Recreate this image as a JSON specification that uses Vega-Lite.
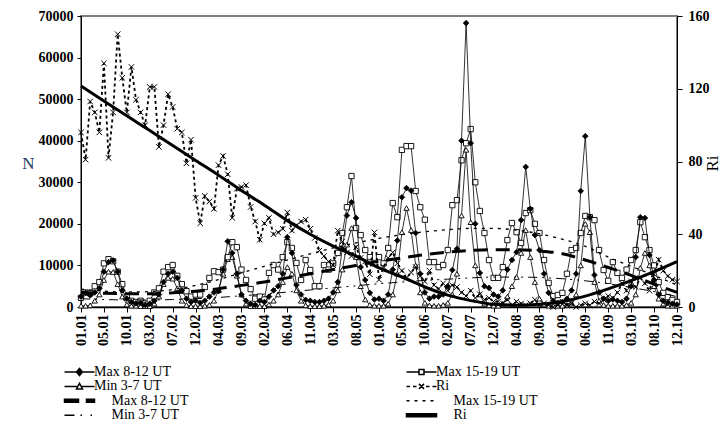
{
"$schema": "https://vega.github.io/schema/vega-lite/v6.json",
"width": 596, "height": 291,
"autosize": {"type": "none"},
"padding": {"left": 81, "top": 16, "right": 47, "bottom": 123},
"background": "white",
"config": {
 "view": {"stroke": "#808080", "strokeWidth": 2},
 "font": "Liberation Serif",
 "axis": {"domainColor": "black", "domainWidth": 1, "tickColor": "black", "grid": false, "labelFont": "Liberation Serif", "labelFontSize": 14, "labelFontWeight": "bold", "labelColor": "black", "titleFont": "Liberation Serif"}
},
"datasets": {
"obs": [
{"i":0,"max812":2500,"max1519":2200,"min37":300,"ri":96},
{"i":1,"max812":3400,"max1519":3500,"min37":300,"ri":81},
{"i":2,"max812":2800,"max1519":3300,"min37":400,"ri":113},
{"i":3,"max812":3500,"max1519":5000,"min37":1500,"ri":107},
{"i":4,"max812":4500,"max1519":6000,"min37":3000,"ri":96},
{"i":5,"max812":8500,"max1519":10500,"min37":6500,"ri":134},
{"i":6,"max812":10800,"max1519":11500,"min37":8500,"ri":82},
{"i":7,"max812":11200,"max1519":11000,"min37":8400,"ri":107},
{"i":8,"max812":8500,"max1519":8500,"min37":5500,"ri":150},
{"i":9,"max812":4000,"max1519":5500,"min37":2500,"ri":126},
{"i":10,"max812":2000,"max1519":2500,"min37":600,"ri":107},
{"i":11,"max812":1200,"max1519":1500,"min37":300,"ri":132},
{"i":12,"max812":900,"max1519":1200,"min37":300,"ri":114},
{"i":13,"max812":1000,"max1519":1500,"min37":200,"ri":107},
{"i":14,"max812":500,"max1519":800,"min37":200,"ri":100},
{"i":15,"max812":800,"max1519":1500,"min37":200,"ri":121},
{"i":16,"max812":1500,"max1519":3500,"min37":800,"ri":121},
{"i":17,"max812":3000,"max1519":4500,"min37":2500,"ri":88},
{"i":18,"max812":6000,"max1519":8500,"min37":5500,"ri":100},
{"i":19,"max812":8000,"max1519":9600,"min37":7000,"ri":117},
{"i":20,"max812":8500,"max1519":10100,"min37":6800,"ri":110},
{"i":21,"max812":7000,"max1519":7500,"min37":4500,"ri":98},
{"i":22,"max812":4000,"max1519":5500,"min37":1500,"ri":96},
{"i":23,"max812":2000,"max1519":3800,"min37":500,"ri":79},
{"i":24,"max812":1200,"max1519":2500,"min37":200,"ri":92},
{"i":25,"max812":1500,"max1519":3000,"min37":200,"ri":60},
{"i":26,"max812":1000,"max1519":3000,"min37":200,"ri":46},
{"i":27,"max812":1500,"max1519":4800,"min37":300,"ri":61},
{"i":28,"max812":2500,"max1519":7000,"min37":500,"ri":58},
{"i":29,"max812":3500,"max1519":8600,"min37":1500,"ri":54},
{"i":30,"max812":3800,"max1519":8400,"min37":4000,"ri":78},
{"i":31,"max812":9000,"max1519":9000,"min37":8000,"ri":83},
{"i":32,"max812":15800,"max1519":12000,"min37":11500,"ri":73},
{"i":33,"max812":13000,"max1519":15600,"min37":12000,"ri":49},
{"i":34,"max812":8000,"max1519":14400,"min37":7500,"ri":65},
{"i":35,"max812":3000,"max1519":9000,"min37":3000,"ri":66},
{"i":36,"max812":1500,"max1519":6500,"min37":800,"ri":67},
{"i":37,"max812":800,"max1519":4300,"min37":200,"ri":55},
{"i":38,"max812":500,"max1519":2000,"min37":200,"ri":47},
{"i":39,"max812":1500,"max1519":2500,"min37":200,"ri":37},
{"i":40,"max812":1200,"max1519":1800,"min37":200,"ri":46},
{"i":41,"max812":2500,"max1519":8200,"min37":600,"ri":49},
{"i":42,"max812":4000,"max1519":10100,"min37":1500,"ri":40},
{"i":43,"max812":5000,"max1519":9000,"min37":3000,"ri":41},
{"i":44,"max812":8000,"max1519":12000,"min37":6000,"ri":43},
{"i":45,"max812":16800,"max1519":15600,"min37":9600,"ri":52},
{"i":46,"max812":13000,"max1519":14200,"min37":8000,"ri":42},
{"i":47,"max812":5300,"max1519":10600,"min37":4000,"ri":45},
{"i":48,"max812":3000,"max1519":6500,"min37":1500,"ri":47},
{"i":49,"max812":1700,"max1519":11300,"min37":400,"ri":48},
{"i":50,"max812":1500,"max1519":8900,"min37":200,"ri":43},
{"i":51,"max812":1200,"max1519":5000,"min37":200,"ri":38},
{"i":52,"max812":1200,"max1519":5000,"min37":200,"ri":31},
{"i":53,"max812":1500,"max1519":10100,"min37":300,"ri":28},
{"i":54,"max812":2000,"max1519":9000,"min37":600,"ri":25},
{"i":55,"max812":3500,"max1519":10500,"min37":1500,"ri":23},
{"i":56,"max812":6000,"max1519":13000,"min37":4000,"ri":42},
{"i":57,"max812":14000,"max1519":17800,"min37":9000,"ri":36},
{"i":58,"max812":22000,"max1519":24000,"min37":15000,"ri":30},
{"i":59,"max812":25200,"max1519":31500,"min37":19000,"ri":28},
{"i":60,"max812":21400,"max1519":19000,"min37":12000,"ri":33},
{"i":61,"max812":9600,"max1519":17300,"min37":5000,"ri":27},
{"i":62,"max812":6500,"max1519":13700,"min37":1800,"ri":25},
{"i":63,"max812":3400,"max1519":12000,"min37":500,"ri":18},
{"i":64,"max812":1800,"max1519":10600,"min37":300,"ri":41},
{"i":65,"max812":2000,"max1519":12000,"min37":300,"ri":15},
{"i":66,"max812":1500,"max1519":10500,"min37":300,"ri":22},
{"i":67,"max812":3000,"max1519":14200,"min37":800,"ri":27},
{"i":68,"max812":9000,"max1519":25000,"min37":3000,"ri":30},
{"i":69,"max812":16000,"max1519":21600,"min37":8000,"ri":24},
{"i":70,"max812":26400,"max1519":37800,"min37":18000,"ri":20},
{"i":71,"max812":28600,"max1519":38700,"min37":23800,"ri":16},
{"i":72,"max812":28000,"max1519":38700,"min37":18500,"ri":19},
{"i":73,"max812":17800,"max1519":27900,"min37":10000,"ri":22},
{"i":74,"max812":8000,"max1519":24000,"min37":3500,"ri":17},
{"i":75,"max812":3500,"max1519":21000,"min37":1000,"ri":14},
{"i":76,"max812":2000,"max1519":10800,"min37":400,"ri":20},
{"i":77,"max812":2500,"max1519":10800,"min37":300,"ri":12},
{"i":78,"max812":2500,"max1519":9600,"min37":300,"ri":10},
{"i":79,"max812":3000,"max1519":10100,"min37":500,"ri":13},
{"i":80,"max812":5000,"max1519":13700,"min37":1000,"ri":9},
{"i":81,"max812":8900,"max1519":24500,"min37":3000,"ri":12},
{"i":82,"max812":14000,"max1519":25700,"min37":8000,"ri":11},
{"i":83,"max812":40000,"max1519":35300,"min37":22000,"ri":8},
{"i":84,"max812":68300,"max1519":39400,"min37":37800,"ri":6},
{"i":85,"max812":39400,"max1519":42800,"min37":20400,"ri":9},
{"i":86,"max812":20000,"max1519":30000,"min37":10000,"ri":5},
{"i":87,"max812":8200,"max1519":23100,"min37":3000,"ri":7},
{"i":88,"max812":5000,"max1519":17800,"min37":800,"ri":4},
{"i":89,"max812":4600,"max1519":11300,"min37":400,"ri":5},
{"i":90,"max812":3000,"max1519":7000,"min37":300,"ri":3},
{"i":91,"max812":2500,"max1519":7000,"min37":300,"ri":3},
{"i":92,"max812":4000,"max1519":9600,"min37":800,"ri":2},
{"i":93,"max812":9000,"max1519":16100,"min37":2500,"ri":4},
{"i":94,"max812":11300,"max1519":20200,"min37":5000,"ri":1},
{"i":95,"max812":13200,"max1519":18000,"min37":7200,"ri":3},
{"i":96,"max812":20900,"max1519":15400,"min37":13000,"ri":2},
{"i":97,"max812":33700,"max1519":22600,"min37":18500,"ri":1},
{"i":98,"max812":23600,"max1519":23300,"min37":12000,"ri":2},
{"i":99,"max812":17300,"max1519":20000,"min37":6000,"ri":4},
{"i":100,"max812":13700,"max1519":17800,"min37":2000,"ri":1},
{"i":101,"max812":8000,"max1519":11300,"min37":600,"ri":2},
{"i":102,"max812":3400,"max1519":5800,"min37":300,"ri":1},
{"i":103,"max812":1500,"max1519":2600,"min37":300,"ri":0},
{"i":104,"max812":1000,"max1519":2900,"min37":300,"ri":1},
{"i":105,"max812":1200,"max1519":3400,"min37":300,"ri":3},
{"i":106,"max812":2000,"max1519":8000,"min37":500,"ri":1},
{"i":107,"max812":4000,"max1519":13700,"min37":1000,"ri":2},
{"i":108,"max812":8000,"max1519":14200,"min37":3000,"ri":0},
{"i":109,"max812":27900,"max1519":17800,"min37":10000,"ri":1},
{"i":110,"max812":41100,"max1519":21900,"min37":20000,"ri":2},
{"i":111,"max812":21600,"max1519":21600,"min37":18000,"ri":1},
{"i":112,"max812":7700,"max1519":20900,"min37":6000,"ri":3},
{"i":113,"max812":3500,"max1519":13700,"min37":1500,"ri":2},
{"i":114,"max812":2000,"max1519":8900,"min37":500,"ri":4},
{"i":115,"max812":1500,"max1519":6300,"min37":300,"ri":6},
{"i":116,"max812":1800,"max1519":10800,"min37":300,"ri":5},
{"i":117,"max812":1500,"max1519":8200,"min37":300,"ri":8},
{"i":118,"max812":1200,"max1519":7000,"min37":300,"ri":13},
{"i":119,"max812":2000,"max1519":9000,"min37":500,"ri":9},
{"i":120,"max812":5000,"max1519":11300,"min37":1000,"ri":14},
{"i":121,"max812":12000,"max1519":13700,"min37":3000,"ri":11},
{"i":122,"max812":21600,"max1519":20400,"min37":9400,"ri":16},
{"i":123,"max812":21400,"max1519":16800,"min37":13000,"ri":13},
{"i":124,"max812":12500,"max1519":13700,"min37":10000,"ri":9},
{"i":125,"max812":6500,"max1519":10000,"min37":5000,"ri":18},
{"i":126,"max812":3000,"max1519":6000,"min37":2000,"ri":26},
{"i":127,"max812":1500,"max1519":3400,"min37":800,"ri":20},
{"i":128,"max812":1000,"max1519":2400,"min37":300,"ri":17},
{"i":129,"max812":800,"max1519":1700,"min37":300,"ri":15},
{"i":130,"max812":600,"max1519":1200,"min37":300,"ri":14}
],
"trend": [
{"i":0,"max812":3500,"max1519":4300,"min37":2000,"ri":121.5},
{"i":5,"max812":3300,"max1519":3800,"min37":1800,"ri":113.3},
{"i":10,"max812":3200,"max1519":3600,"min37":1700,"ri":105.1},
{"i":15,"max812":3200,"max1519":3700,"min37":1700,"ri":97},
{"i":20,"max812":3400,"max1519":4200,"min37":1800,"ri":88.8},
{"i":25,"max812":3800,"max1519":5200,"min37":2000,"ri":80.6},
{"i":30,"max812":4400,"max1519":6600,"min37":2300,"ri":72.5},
{"i":35,"max812":5200,"max1519":8200,"min37":2700,"ri":64},
{"i":40,"max812":6000,"max1519":9800,"min37":3100,"ri":56},
{"i":45,"max812":7000,"max1519":11300,"min37":3600,"ri":47.5},
{"i":50,"max812":8000,"max1519":12800,"min37":4100,"ri":40},
{"i":55,"max812":9000,"max1519":14200,"min37":4600,"ri":33.5},
{"i":60,"max812":10000,"max1519":15400,"min37":5100,"ri":28},
{"i":65,"max812":11000,"max1519":16500,"min37":5600,"ri":21.5},
{"i":70,"max812":11800,"max1519":17400,"min37":6000,"ri":16.5},
{"i":75,"max812":12600,"max1519":18100,"min37":6400,"ri":11},
{"i":80,"max812":13200,"max1519":18600,"min37":6700,"ri":6.5},
{"i":85,"max812":13600,"max1519":18900,"min37":7000,"ri":3.5},
{"i":90,"max812":13800,"max1519":18900,"min37":7200,"ri":1.5},
{"i":95,"max812":13800,"max1519":18500,"min37":7200,"ri":1},
{"i":100,"max812":13500,"max1519":17600,"min37":7100,"ri":1.5},
{"i":105,"max812":12800,"max1519":16300,"min37":6800,"ri":3},
{"i":110,"max812":11300,"max1519":14600,"min37":6300,"ri":6},
{"i":115,"max812":9500,"max1519":12000,"min37":5600,"ri":10},
{"i":120,"max812":7600,"max1519":9800,"min37":4700,"ri":14.5},
{"i":125,"max812":5500,"max1519":7600,"min37":3700,"ri":19.5},
{"i":130,"max812":3500,"max1519":5300,"min37":2500,"ri":25}
]
},
"encoding": {
 "x": {"field": "i", "type": "quantitative", "title": null,
  "scale": {"domain": [0, 130], "nice": false, "zero": false},
  "axis": {"values": [0,5,10,15,20,25,30,35,40,45,50,55,60,65,70,75,80,85,90,95,100,105,110,115,120,125,130],
   "labelExpr": "['01.01','05.01','10.01','03.02','07.02','12.02','04.03','09.03','02.04','06.04','11.04','03.05','08.05','01.06','05.06','10.06','02.07','07.07','12.07','04.08','09.08','01.09','06.09','11.09','03.10','08.10','12.10'][round(datum.value/5)]",
   "labelAngle": 270, "tickSize": 5, "labelPadding": 2, "labelOverlap": false, "labelFlush": false, "labelBound": false, "domainWidth": 1.5}}
},
"layer": [
 {"layer": [
  {"data": {"name": "obs"}, "mark": {"type": "line", "strokeWidth": 0.8},
   "encoding": {
    "y": {"field": "min37", "type": "quantitative", "scale": {"domain": [0, 70000], "nice": false},
     "axis": {"orient": "left", "values": [0,10000,20000,30000,40000,50000,60000,70000], "format": "d", "title": "N", "titleAngle": 0, "titleAlign": "center", "titleBaseline": "middle", "titleX": -53, "titleY": 147, "titleFontSize": 17, "titleFontWeight": "normal", "titleColor": "#1f3864", "tickSize": 4, "labelPadding": 4}},
    "stroke": {"datum": "c",
     "scale": {"domain": ["a","b","c","d","e","f","g","h","pa","pb","pc","pd"], "range": ["black","black","black","black","black","black","black","black","black","black","black","black"]},
     "legend": {"title": null, "orient": "none", "direction": "vertical", "legendX": -8.5, "legendY": 349, "columns": 2, "columnPadding": 215, "rowPadding": 0.4, "padding": 0,
      "symbolSize": 100, "labelFont": "Liberation Serif", "labelFontSize": 14, "labelColor": "black", "labelOffset": 7.5, "labelLimit": 300,
      "values": ["a","c","e","g","b","d","f","h"],
      "labelExpr": "datum.value=='a'?'Max 8-12 UT':datum.value=='b'?'Max 15-19 UT':datum.value=='c'?'Min 3-7 UT':datum.value=='d'?'Ri':datum.value=='e'?'\u200b\u00a0\u00a0\u00a0\u00a0\u00a0Max 8-12 UT':datum.value=='f'?'\u200b\u00a0\u00a0\u00a0\u00a0\u00a0Max 15-19 UT':datum.value=='g'?'\u200b\u00a0\u00a0\u00a0\u00a0\u00a0Min 3-7 UT':'\u200b\u00a0\u00a0\u00a0\u00a0\u00a0Ri'"}}
   }},
  {"data": {"name": "obs"}, "mark": {"type": "point", "size": 28, "strokeWidth": 0.9, "opacity": 1},
   "encoding": {"y": {"field": "min37", "type": "quantitative"},
    "stroke": {"datum": "pc", "scale": {"domain": ["a","b","c","d","e","f","g","h","pa","pb","pc","pd"], "range": ["black","black","black","black","black","black","black","black","black","black","black","black"]}},
    "shape": {"datum": "pc",
     "scale": {"domain": ["a","b","c","d","e","f","g","h","pa","pb","pc","pd"], "range": [
      "M-3,0H3M0,-0.7L0.6,0L0,0.7L-0.6,0Z",
      "M-3,0H-0.5M0.5,0H3M-0.5,-0.5H0.5V0.5H-0.5Z",
      "M-3,0H-0.33M0.33,0H3M0,-0.6L0.6,0.5H-0.6Z",
      "M-3,0H-2.3M-1.7,0H-1M0.9,0H1.6M2.2,0H3M-0.5,-0.5L0.5,0.5M-0.5,0.5L0.5,-0.5",
      "M-3,-0.3H-0.2V0.3H-3ZM1.4,-0.3H3V0.3H1.4Z",
      "M-3,0H-2.4M-1.4,0H-0.8M0.2,0H0.8M1.8,0H2.4",
      "M-3,0H-1M0.2,0H0.5M2.2,0H2.5",
      "M-3,-0.3H3V0.3H-3Z",
      "diamond", "square", "triangle-up", "M-1,-1L1,1M-1,1L1,-1"]},
     "legend": {"title": null, "orient": "none", "direction": "vertical", "legendX": -8.5, "legendY": 349, "columns": 2, "columnPadding": 215, "rowPadding": 0.4, "padding": 0,
      "symbolSize": 100, "labelFont": "Liberation Serif", "labelFontSize": 14, "labelColor": "black", "labelOffset": 7.5, "labelLimit": 300,
      "values": ["a","c","e","g","b","d","f","h"],
      "labelExpr": "datum.value=='a'?'Max 8-12 UT':datum.value=='b'?'Max 15-19 UT':datum.value=='c'?'Min 3-7 UT':datum.value=='d'?'Ri':datum.value=='e'?'\u200b\u00a0\u00a0\u00a0\u00a0\u00a0Max 8-12 UT':datum.value=='f'?'\u200b\u00a0\u00a0\u00a0\u00a0\u00a0Max 15-19 UT':datum.value=='g'?'\u200b\u00a0\u00a0\u00a0\u00a0\u00a0Min 3-7 UT':'\u200b\u00a0\u00a0\u00a0\u00a0\u00a0Ri'"}},
    "fill": {"datum": "pc",
     "scale": {"domain": ["a","b","c","d","e","f","g","h","pa","pb","pc","pd"], "range": ["black","white","white","transparent","black","transparent","transparent","black","black","white","white","transparent"]},
     "legend": {"title": null, "orient": "none", "direction": "vertical", "legendX": -8.5, "legendY": 349, "columns": 2, "columnPadding": 215, "rowPadding": 0.4, "padding": 0,
      "symbolSize": 100, "labelFont": "Liberation Serif", "labelFontSize": 14, "labelColor": "black", "labelOffset": 7.5, "labelLimit": 300,
      "values": ["a","c","e","g","b","d","f","h"],
      "labelExpr": "datum.value=='a'?'Max 8-12 UT':datum.value=='b'?'Max 15-19 UT':datum.value=='c'?'Min 3-7 UT':datum.value=='d'?'Ri':datum.value=='e'?'\u200b\u00a0\u00a0\u00a0\u00a0\u00a0Max 8-12 UT':datum.value=='f'?'\u200b\u00a0\u00a0\u00a0\u00a0\u00a0Max 15-19 UT':datum.value=='g'?'\u200b\u00a0\u00a0\u00a0\u00a0\u00a0Min 3-7 UT':'\u200b\u00a0\u00a0\u00a0\u00a0\u00a0Ri'"}}}},
  {"data": {"name": "obs"}, "mark": {"type": "line", "strokeWidth": 0.8},
   "encoding": {"y": {"field": "max1519", "type": "quantitative"}, "stroke": {"datum": "b"}}},
  {"data": {"name": "obs"}, "mark": {"type": "point", "size": 28, "strokeWidth": 0.9, "opacity": 1},
   "encoding": {"y": {"field": "max1519", "type": "quantitative"}, "stroke": {"datum": "pb"}, "shape": {"datum": "pb"}, "fill": {"datum": "pb"}}},
  {"data": {"name": "obs"}, "mark": {"type": "line", "strokeWidth": 0.8},
   "encoding": {"y": {"field": "max812", "type": "quantitative"}, "stroke": {"datum": "a"}}},
  {"data": {"name": "obs"}, "mark": {"type": "point", "size": 32, "strokeWidth": 0.8, "opacity": 1},
   "encoding": {"y": {"field": "max812", "type": "quantitative"}, "stroke": {"datum": "pa"}, "shape": {"datum": "pa"}, "fill": {"datum": "pa"}}},
  {"data": {"name": "trend"}, "mark": {"type": "line", "strokeWidth": 1, "strokeDash": [9,5,2,5,2,5], "interpolate": "monotone"},
   "encoding": {"y": {"field": "min37", "type": "quantitative"}, "stroke": {"datum": "g"}}},
  {"data": {"name": "trend"}, "mark": {"type": "line", "strokeWidth": 1.3, "strokeDash": [3,5], "interpolate": "monotone"},
   "encoding": {"y": {"field": "max1519", "type": "quantitative"}, "stroke": {"datum": "f"}}},
  {"data": {"name": "trend"}, "mark": {"type": "line", "strokeWidth": 3, "strokeDash": [14,8], "interpolate": "monotone"},
   "encoding": {"y": {"field": "max812", "type": "quantitative"}, "stroke": {"datum": "e"}}}
 ]},
 {"layer": [
  {"data": {"name": "obs"}, "mark": {"type": "line", "strokeWidth": 1.8, "strokeDash": [3,3]},
   "encoding": {
    "y": {"field": "ri", "type": "quantitative", "scale": {"domain": [0, 160], "nice": false},
     "axis": {"orient": "right", "values": [0,20,40,60,80,100,120,140,160], "title": "Ri", "titleAngle": 270, "titleAlign": "center", "titleBaseline": "middle", "titleX": 35, "titleY": 147, "titleFontSize": 17, "titleFontWeight": "normal", "titleColor": "black", "tickSize": 5, "labelPadding": 6}},
    "stroke": {"datum": "d"}}},
  {"data": {"name": "obs"}, "mark": {"type": "point", "size": 30, "strokeWidth": 1, "opacity": 1},
   "encoding": {"y": {"field": "ri", "type": "quantitative"}, "stroke": {"datum": "pd"}, "shape": {"datum": "pd"}, "fill": {"datum": "pd"}}},
  {"data": {"name": "trend"}, "mark": {"type": "line", "strokeWidth": 3, "interpolate": "monotone"},
   "encoding": {"y": {"field": "ri", "type": "quantitative"}, "stroke": {"datum": "h"}}}
 ]}
],
"resolve": {"scale": {"y": "independent"}}
}
